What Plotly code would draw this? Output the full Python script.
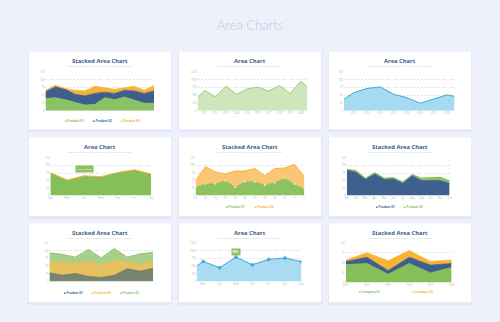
import plotly.graph_objects as go

W, H = 500, 322

# ---------------- data ----------------
page_title = "Area Charts"
subtitle = "Lorem Ipsum is simply dummy text of the printing industry"
titles = ["Stacked Area Chart", "Area Chart", "Area Chart",
          "Area Chart", "Stacked Area Chart", "Stacked Area Chart",
          "Stacked Area Chart", "Area Chart", "Stacked Area Chart"]

# chart 1 (stacked, 3 products)
c1_x = list(range(12))
c1_p1 = [39, 42, 35, 26, 18, 20, 42, 35, 44, 34, 24, 24]
c1_p2 = [22, 35, 34, 27, 30, 36, 18, 21, 22, 30, 32, 40]
c1_p3 = [5, 5, 3, 13, 16, 23, 14, 13, 8, 15, 10, 18]
c1_names = ["Product 01", "Product 02", "Product 03"]

# chart 2 (area, years)
c2_x = [-0.65, 0, 1, 2, 3, 4, 5, 6, 7, 8, 9, 9.6]
c2_y = [424, 657, 445, 795, 530, 710, 763, 636, 816, 561, 953, 773]
c2_labels = ["2011", "2012", "2013", "2014", "2015", "2016", "2017", "2018", "2019", "2020"]

# chart 3 (area, years)
c3_x = [-0.74, 0, 1, 2, 3, 4, 5, 6, 7, 7.57]
c3_y = [37, 58, 72, 77, 53, 42, 24, 37, 51, 46]
c3_labels = ["2011", "2012", "2013", "2014", "2015", "2016", "2017", "2018"]

# chart 4 (area, weekdays)
c4_labels = ["Sun", "Mon", "Tue", "Wed", "Thu", "Fri", "Sat"]
c4_y = [76, 52, 66, 63, 77, 86, 72]
c4_note = "Lorem Ipsum"

# chart 5 (stacked, 2 products)
c5_labels = ["01", "02", "03", "04", "05", "06", "07", "08", "09", "10", "11", "12"]
c5_p1 = [27, 39, 39, 49, 28, 46, 46, 34, 43, 58, 38, 22]
c5_p2 = [25, 57, 40, 23, 54, 36, 44, 32, 47, 34, 66, 41]
c5_names = ["Product 01", "Product 02"]

# chart 6 (stacked, months)
c6_labels = ["Jan", "Feb", "Mar", "Apr", "May", "Jun", "Jul", "Aug", "Sept", "Oct", "Nov", "Dec"]
c6_p1 = [85, 77, 54, 72, 54, 55, 41, 66, 50, 50, 50, 41]
c6_p2 = [3, 6, 4, 4, 4, 5, 4, 4, 8, 10, 11, 8]
c6_names = ["Product 01", "Product 02"]

# chart 7 (stacked, 3 products)
c7_x = list(range(9))
c7_p1 = [28, 20, 26, 16, 13, 20, 41, 33, 43]
c7_p2 = [33, 44, 32, 49, 40, 48, 20, 22, 25]
c7_p3 = [32, 24, 21, 39, 24, 39, 18, 35, 27]
c7_names = ["Product 01", "Product 02", "Product 03"]

# chart 8 (area with markers)
c8_x = [-0.4, 0, 1, 2, 3, 4, 5, 6]
c8_y = [500, 652, 446, 793, 543, 717, 761, 641]
c8_labels = ["Mon", "Tue", "Wed", "Thu", "Fri", "Sat", "Sun"]
c8_note = "80%"

# chart 9 (stacked, companies)
c9_labels = ["2015", "2016", "2017", "2018", "2019", "2020"]
c9_p1 = [45, 48, 21, 48, 24, 38]
c9_p2 = [8, 16, 9, 16, 20, 10]
c9_p3 = [4, 11, 25, 17, 9, 9]
c9_names = ["Company 01", "Company 02"]

# ---------------- style ----------------
GREEN = "#8BC163"
NAVY = "#3E5F8C"
ORANGE = "#F8B33A"
TITLE_C = "#3D5A8A"
TICK_C = "#B3B3B3"
FONT = "Open Sans"

cards = [(26, 50, 170, 129), (178, 50, 322, 129), (330, 50, 474, 129),
         (26, 137, 170, 217), (178, 137, 322, 217), (330, 137, 474, 217),
         (26, 224, 170, 304), (178, 224, 322, 304), (330, 224, 474, 304)]
plots = [(43, 71, 153, 110), (197, 71, 308, 110), (345, 71, 457, 110),
         (48, 158, 150, 196), (195, 158, 305, 196), (348, 158, 452, 196),
         (47, 244, 152, 283), (196, 244, 302, 283), (347, 244, 454, 284)]

fig = go.Figure()
layout = dict(width=W, height=322, margin=dict(l=0, r=0, t=0, b=0),
              paper_bgcolor="#EEF0FB", plot_bgcolor="rgba(0,0,0,0)",
              showlegend=False, font=dict(family=FONT))
shapes, annos = [], []


def px(x):
    return x / W


def py(y):
    return 1 - y / H


def set_axes(i, xr, yr, ytv, xtv=None, xtt=None):
    x0, y0, x1, y1 = plots[i]
    n = "" if i == 0 else str(i + 1)
    layout["xaxis" + n] = dict(domain=[px(x0), px(x1)], range=xr, showgrid=False,
                               zeroline=False, showline=False, ticks="",
                               tickvals=xtv if xtv is not None else [],
                               ticktext=xtt if xtt is not None else [],
                               tickfont=dict(size=2.6, color=TICK_C),
                               anchor="y" + n, fixedrange=True)
    layout["yaxis" + n] = dict(domain=[py(y1), py(y0)], range=yr, tickvals=ytv,
                               showgrid=True, gridcolor="#E3E3E3", griddash="2px,1.5px",
                               gridwidth=0.6, zeroline=False, showline=False, ticks="",
                               tickfont=dict(size=2.6, color=TICK_C),
                               anchor="x" + n, fixedrange=True)
    return "x" + n, "y" + n


def area(xa, ya, x, y, fill, line, group=None, lw=0.8, marker=None):
    kw = dict(x=x, y=y, xaxis=xa, yaxis=ya, mode="lines",
              line=dict(color=line, width=lw), fillcolor=fill, hoverinfo="skip")
    if group:
        kw["stackgroup"] = group
    else:
        kw["fill"] = "tozeroy"
    if marker:
        kw["mode"] = "lines+markers"
        kw["marker"] = marker
    fig.add_trace(go.Scatter(**kw))


def legend(items, y, x_start, step):
    for k, (name, col) in enumerate(items):
        annos.append(dict(x=px(x_start + k * step), y=py(y), xref="paper", yref="paper",
                          xanchor="left", yanchor="middle", showarrow=False,
                          text="■ <b>" + name + "</b>",
                          font=dict(size=3, color=col, family=FONT)))


# cards + titles
for i, (x0, y0, x1, y1) in enumerate(cards):
    shapes.append(dict(type="rect", xref="paper", yref="paper", layer="below",
                       x0=px(x0 - 1), x1=px(x1 + 1), y0=py(y1 + 2.5), y1=py(y0),
                       fillcolor="#E2E5F6", line=dict(width=0)))
    shapes.append(dict(type="rect", xref="paper", yref="paper", layer="below",
                       x0=px(x0), x1=px(x1), y0=py(y1), y1=py(y0),
                       fillcolor="#FFFFFF", line=dict(width=0)))
    cx = (x0 + x1) / 2
    annos.append(dict(x=px(cx), y=py(y0 + 9.5), xref="paper", yref="paper",
                      xanchor="center", yanchor="middle",
                      showarrow=False, text="<b>" + titles[i] + "</b>",
                      font=dict(size=5.8, color=TITLE_C, family=FONT)))
    annos.append(dict(x=px(cx), y=py(y0 + 14.5), xref="paper", yref="paper",
                      xanchor="center", yanchor="middle",
                      showarrow=False, text=subtitle,
                      font=dict(size=2.4, color="#C8C8C8", family=FONT)))

annos.append(dict(x=0.5, y=py(23), xref="paper", yref="paper", showarrow=False,
                  xanchor="center", yanchor="middle",
                  text=page_title, font=dict(size=13, color="#C4C9DC", family="Lato", weight=300)))

ticks125 = [0, 25, 50, 75, 100, 125]
ticks1250 = [0, 250, 500, 750, 1000, 1250]

# chart 1
xa, ya = set_axes(0, [0, 11], [0, 125], ticks125)
area(xa, ya, c1_x, c1_p1, GREEN, GREEN, "g1")
area(xa, ya, c1_x, c1_p2, NAVY, NAVY, "g1")
area(xa, ya, c1_x, c1_p3, ORANGE, ORANGE, "g1")
legend(list(zip(c1_names, [GREEN, NAVY, ORANGE])), 121, 61, 28)

# chart 2
xa, ya = set_axes(1, [-0.65, 9.6], [0, 1250], ticks1250, list(range(10)), c2_labels)
area(xa, ya, c2_x, c2_y, "#CFE6BC", "#96C777", lw=0.9)

# chart 3
xa, ya = set_axes(2, [-0.74, 7.57], [0, 125], ticks125, list(range(8)), c3_labels)
area(xa, ya, c3_x, c3_y, "#A6DAF1", "#3AA6DD", lw=1.0)

# chart 4
xa, ya = set_axes(3, [0, 6], [0, 125], ticks125, list(range(7)), c4_labels)
area(xa, ya, list(range(7)), c4_y, "#86BE58", "#F4B43C", lw=1.0)
annos.append(dict(x=2, y=88, xref=xa, yref=ya, showarrow=False, text=c4_note,
                  xanchor="center", yanchor="middle",
                  bgcolor="#8CC063", borderpad=0.8,
                  font=dict(size=2.4, color="#FFFFFF", family=FONT)))

# chart 5
xa, ya = set_axes(4, [0, 11], [0, 125], ticks125, list(range(12)), c5_labels)
area(xa, ya, list(range(12)), c5_p1, "#8CC25F", "#8CC25F", "g5",
     marker=dict(size=2, color="#DDEFCD"))
area(xa, ya, list(range(12)), c5_p2, "#FBC674", "#F6AE3A", "g5", lw=0.9)
legend(list(zip(c5_names, [GREEN, ORANGE])), 207.7, 224, 29)

# chart 6
xa, ya = set_axes(5, [0, 11], [0, 125], ticks125, list(range(12)), c6_labels)
area(xa, ya, list(range(12)), c6_p1, "#3F608D", "#3F608D", "g6")
area(xa, ya, list(range(12)), c6_p2, "#8CC25F", "#7DBB4F", "g6", lw=0.9)
legend(list(zip(c6_names, [NAVY, GREEN])), 207.7, 376, 28)

# chart 7
xa, ya = set_axes(6, [0, 8], [0, 125], ticks125)
area(xa, ya, c7_x, c7_p1, "#77846F", "#5E6E6A", "g7")
area(xa, ya, c7_x, c7_p2, "#E6C15E", "#EBB94A", "g7")
area(xa, ya, c7_x, c7_p3, "#A9CF8C", "#86BE5C", "g7")
legend(list(zip(c7_names, [NAVY, ORANGE, GREEN])), 294.7, 60, 28)

# chart 8
xa, ya = set_axes(7, [-0.4, 6], [0, 1250], ticks1250, list(range(7)), c8_labels)
area(xa, ya, c8_x, c8_y, "#A9DBF2", "#3BA4DC", lw=1.0,
     marker=dict(size=[0, 3, 3, 3, 3, 3, 3, 3], color="#2F93CF"))
annos.append(dict(x=2, y=970, xref=xa, yref=ya, showarrow=False, text="<b>" + c8_note + "</b>",
                  xanchor="center", yanchor="middle",
                  bgcolor="#8CC063", borderpad=0.8,
                  font=dict(size=2.6, color="#FFFFFF", family=FONT)))

# chart 9
xa, ya = set_axes(8, [0, 5], [0, 100], [0, 25, 50, 75, 100], list(range(6)), c9_labels)
area(xa, ya, list(range(6)), c9_p1, "#86BE57", "#86BE57", "g9")
area(xa, ya, list(range(6)), c9_p2, "#3F5F8E", "#3F5F8E", "g9")
area(xa, ya, list(range(6)), c9_p3, "#FBB332", "#FBB332", "g9")
legend(list(zip(c9_names, [GREEN, ORANGE])), 293.7, 358, 54)

layout["shapes"] = shapes
layout["annotations"] = annos
fig.update_layout(**layout)
fig.write_html("out.html")
